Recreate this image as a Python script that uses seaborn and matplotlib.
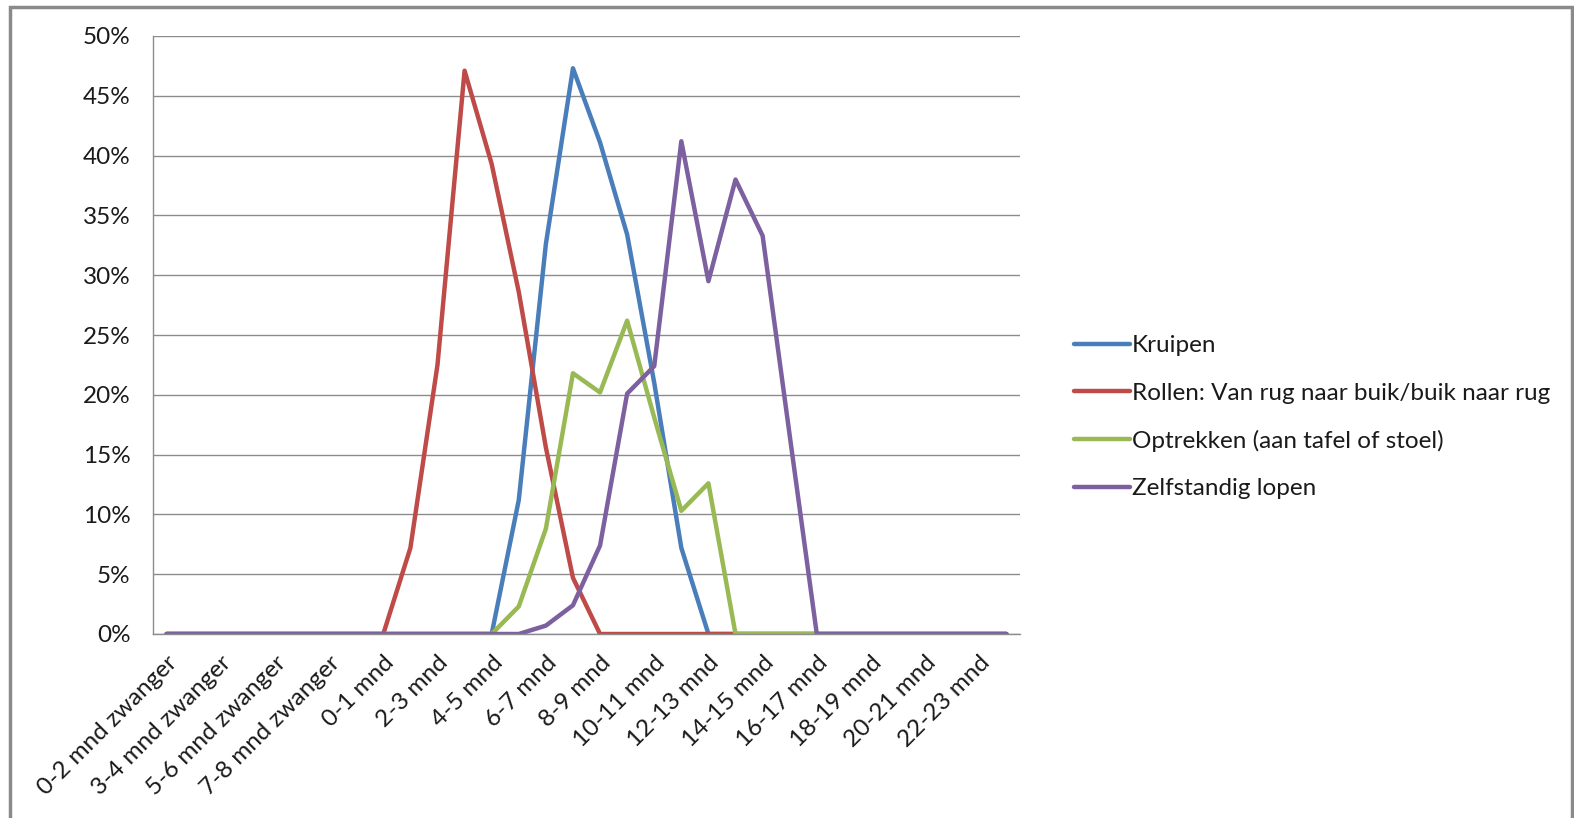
import pandas as pd
import seaborn as sns
import matplotlib.pyplot as plt
from matplotlib.ticker import PercentFormatter, FixedLocator
from matplotlib.patches import Rectangle

# categorieen (32 stuks, alleen elke tweede krijgt een label)
categories = ['0-2 mnd zwanger', '2-3 mnd zwanger', '3-4 mnd zwanger', '4-5 mnd zwanger',
              '5-6 mnd zwanger', '6-7 mnd zwanger', '7-8 mnd zwanger', '8-9 mnd zwanger',
              '0-1 mnd', '1-2 mnd', '2-3 mnd', '3-4 mnd', '4-5 mnd', '5-6 mnd', '6-7 mnd',
              '7-8 mnd', '8-9 mnd', '9-10 mnd', '10-11 mnd', '11-12 mnd', '12-13 mnd',
              '13-14 mnd', '14-15 mnd', '15-16 mnd', '16-17 mnd', '17-18 mnd', '18-19 mnd',
              '19-20 mnd', '20-21 mnd', '21-22 mnd', '22-23 mnd', '23-24 mnd']

kruipen = [0, 0, 0, 0, 0, 0, 0, 0, 0, 0, 0, 0, 0, 11.2, 32.6, 47.3, 41.1, 33.4, 21.0, 7.2,
           0, 0, 0, 0, 0, 0, 0, 0, 0, 0, 0, 0]
rollen = [0, 0, 0, 0, 0, 0, 0, 0, 0, 7.2, 22.5, 47.1, 39.3, 28.6, 15.6, 4.7, 0, 0, 0, 0,
          0, 0, 0, 0, 0, 0, 0, 0, 0, 0, 0, 0]
optrekken = [0, 0, 0, 0, 0, 0, 0, 0, 0, 0, 0, 0, 0, 2.3, 8.8, 21.8, 20.2, 26.2, 18.1, 10.3,
             12.6, 0, 0, 0, 0, 0, 0, 0, 0, 0, 0, 0]
zelfstandig = [0, 0, 0, 0, 0, 0, 0, 0, 0, 0, 0, 0, 0, 0, 0.7, 2.4, 7.4, 20.1, 22.4, 41.2,
               29.5, 38.0, 33.3, 16.6, 0, 0, 0, 0, 0, 0, 0, 0]

series_names = ['Kruipen', 'Rollen: Van rug naar buik/buik naar rug',
                'Optrekken (aan tafel of stoel)', 'Zelfstandig lopen']
colors = ['#4A7EBB', '#BE4B48', '#98B954', '#7D60A0']

rows = []
for name, vals in zip(series_names, [kruipen, rollen, optrekken, zelfstandig]):
    for i, v in enumerate(vals):
        rows.append({'pos': i, 'categorie': categories[i], 'waarde': v, 'reeks': name})
df = pd.DataFrame(rows)

sns.set_style('white')
plt.rcParams['font.family'] = ['Lato', 'DejaVu Sans']
text_color = '#1a1a1a'
grid_color = '#8c8c8c'
fs = 17.5

fig = plt.figure(figsize=(15.74, 8.18), dpi=100)
ax = fig.add_axes([153 / 1574, 1 - 634 / 818, (1020 - 153) / 1574, (634 - 36) / 818])

sns.lineplot(data=df, x='pos', y='waarde', hue='reeks', hue_order=series_names,
             palette=colors, linewidth=3.2, ax=ax, legend=True)

ax.set_xlim(-0.5, len(categories) - 0.5)
ax.set_ylim(0, 50)
ax.set_yticks(range(0, 51, 5))
ax.yaxis.set_major_formatter(PercentFormatter(100, decimals=0))
ax.set_xlabel('')
ax.set_ylabel('')

# x labels op elke tweede categorie, tickstreepjes tussen categorieen
ax.set_xticks(range(0, len(categories), 2))
ax.set_xticklabels(categories[::2], rotation=45, ha='right', va='top',
                   rotation_mode='anchor', fontsize=fs, color=text_color)
ax.xaxis.set_minor_locator(FixedLocator([i - 0.5 for i in range(len(categories) + 1)]))
ax.tick_params(axis='x', which='major', length=0, pad=13)
ax.tick_params(axis='x', which='minor', length=6, width=1, color=grid_color, direction='out')
ax.tick_params(axis='y', length=6, width=1, color=grid_color, direction='out',
               labelsize=fs, labelcolor=text_color, pad=10)

ax.grid(axis='y', color=grid_color, linewidth=1)
ax.set_axisbelow(True)
for s in ['top', 'right']:
    ax.spines[s].set_visible(False)
for s in ['left', 'bottom']:
    ax.spines[s].set_color(grid_color)
    ax.spines[s].set_linewidth(1)

handles, labels = ax.get_legend_handles_labels()
ax.legend(handles, labels, loc='center left', bbox_to_anchor=(1064 / 1574, 0.49),
          bbox_transform=fig.transFigure, frameon=False, fontsize=fs,
          handlelength=2.3, handletextpad=0.1, labelspacing=1.08, borderaxespad=0,
          labelcolor=text_color)

# kader van het diagram
fig.patches.append(Rectangle((10 / 1574, -0.05), (1572 - 10) / 1574, 1.05 - 7 / 818,
                             transform=fig.transFigure, fill=False,
                             edgecolor='#8a8a8a', linewidth=2.5, zorder=10))

fig.savefig('out.png', dpi=100)
